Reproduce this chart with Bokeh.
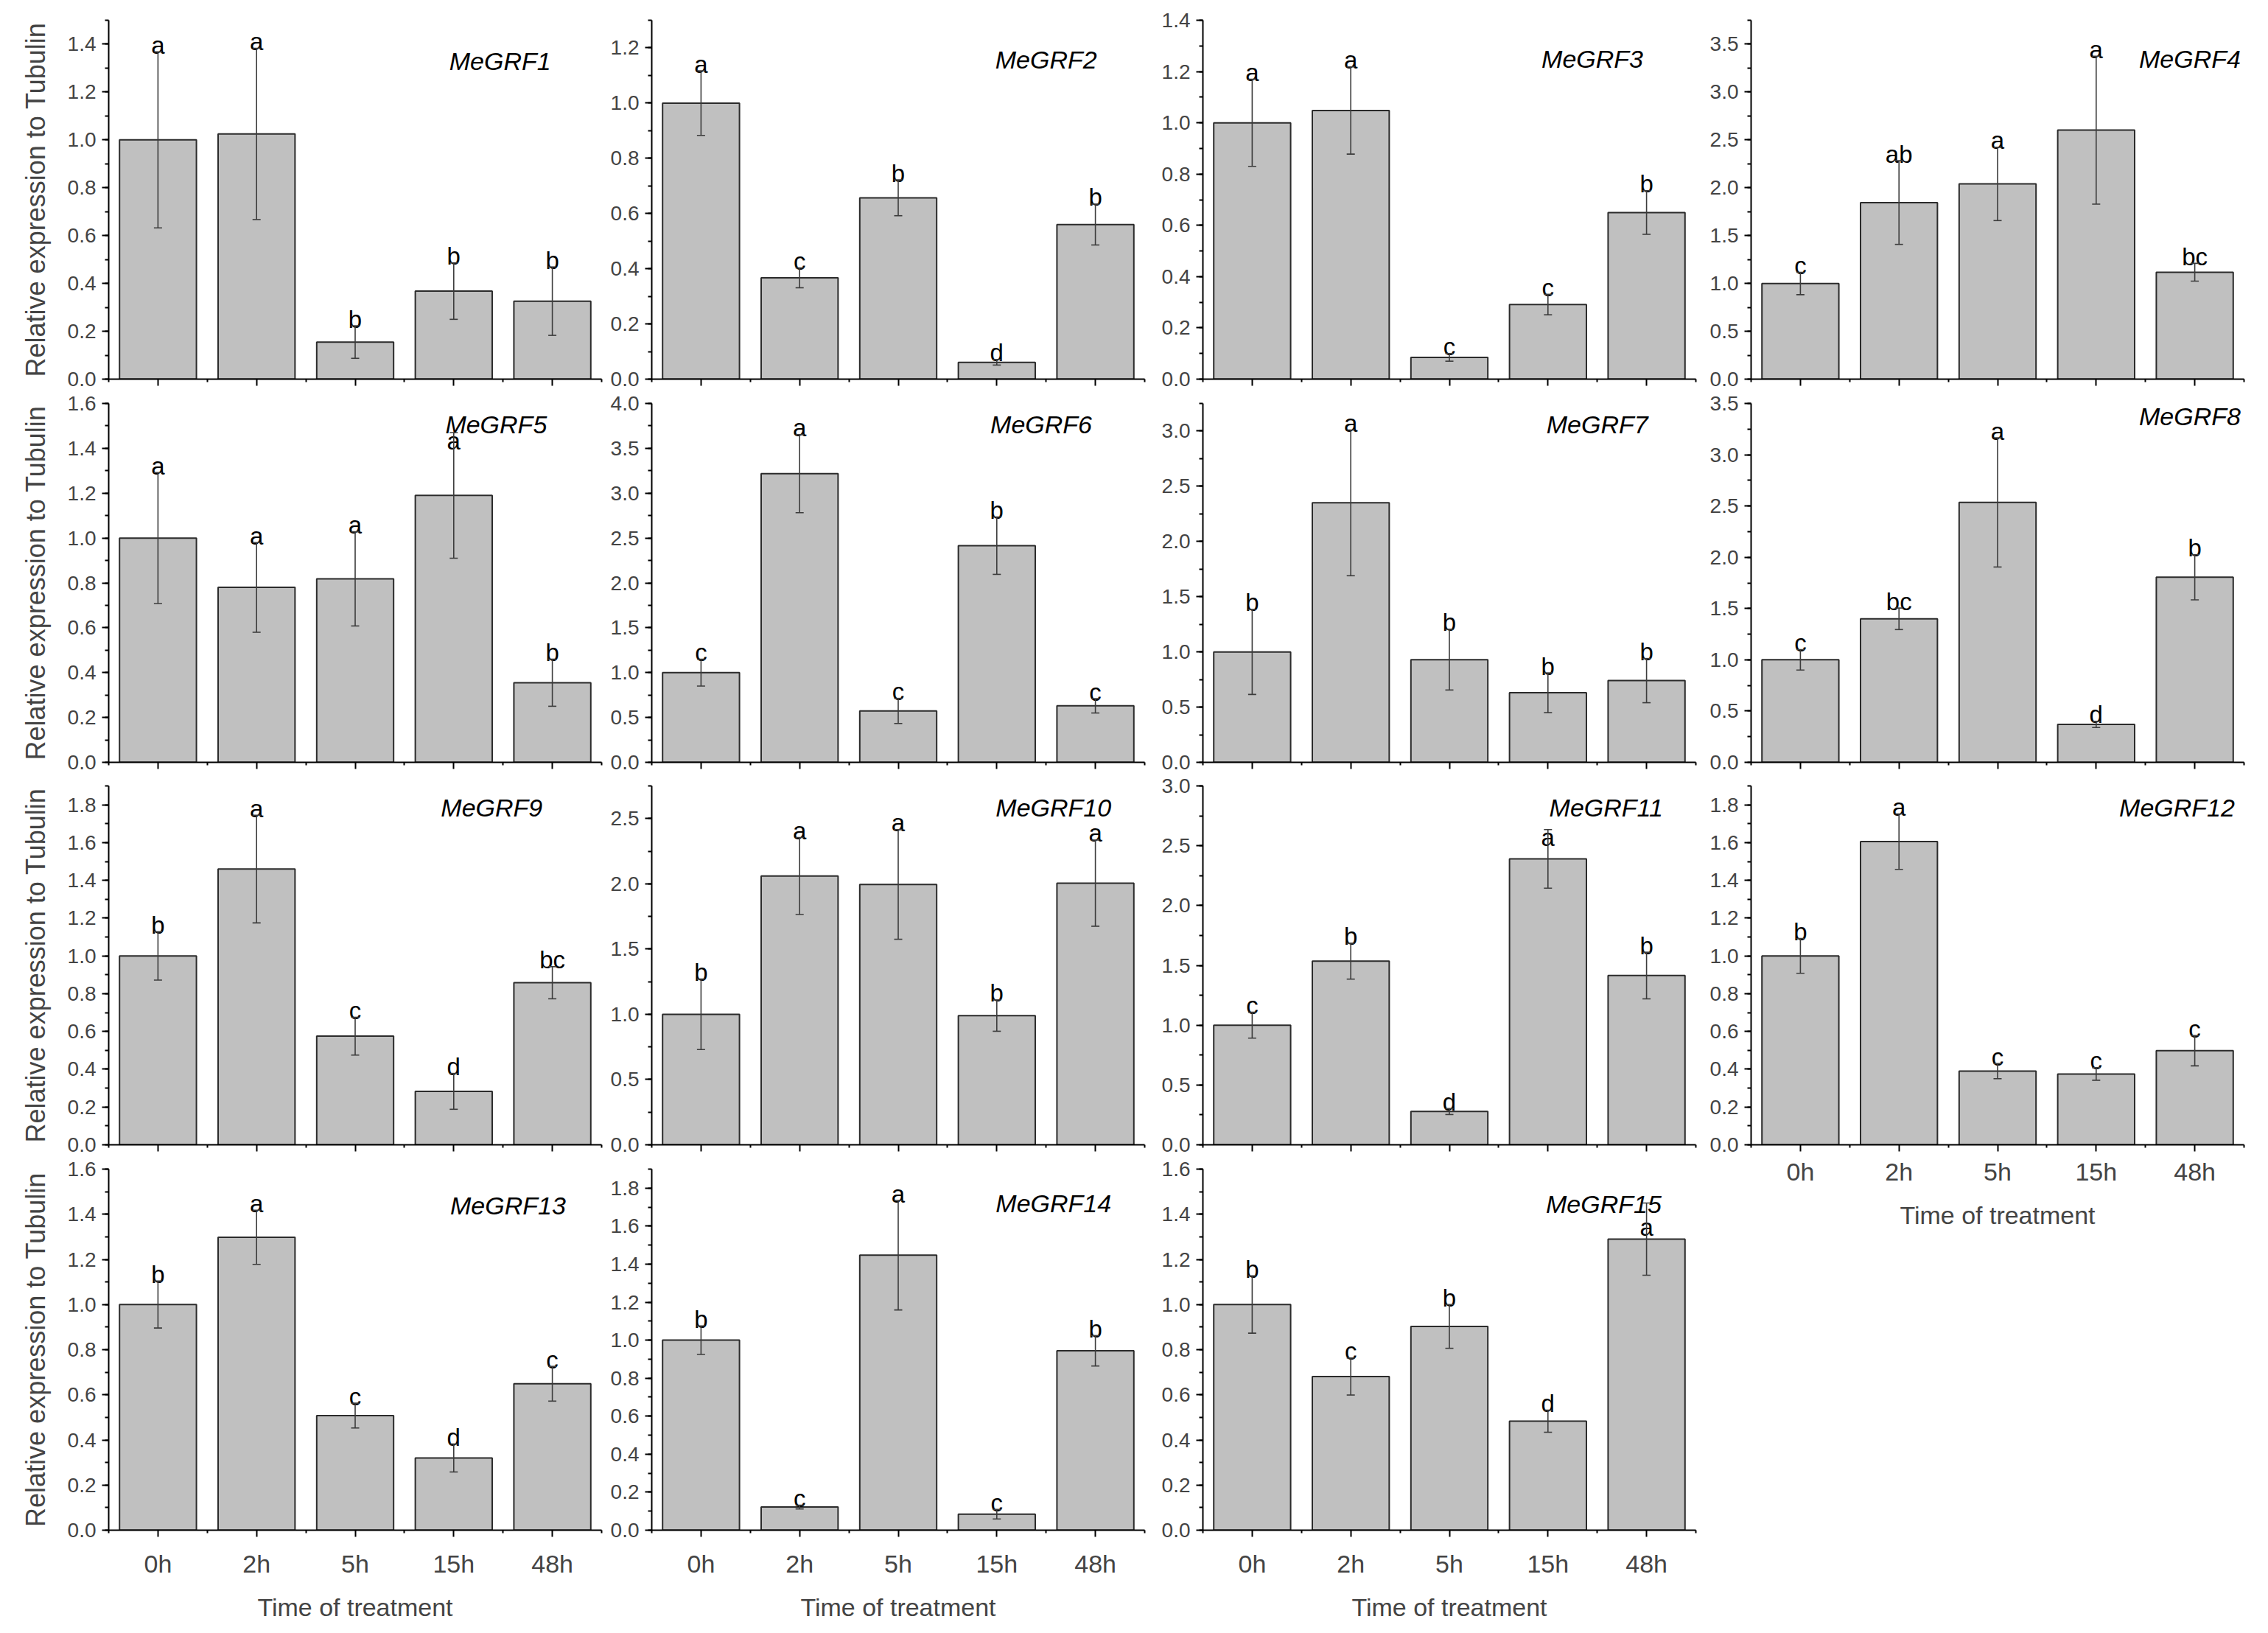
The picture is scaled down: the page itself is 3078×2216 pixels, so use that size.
from bokeh.plotting import figure
from bokeh.models import (Range1d, FixedTicker, PrintfTickFormatter, Label,
                          Whisker, TeeHead, ColumnDataSource)
from bokeh.layouts import row, column
from bokeh.embed import file_html
from bokeh.resources import INLINE
from bokeh.core.properties import value

# ---------------- data ----------------
times = ["0h", "2h", "5h", "15h", "48h"]
genes = ["MeGRF1", "MeGRF2", "MeGRF3", "MeGRF4",
         "MeGRF5", "MeGRF6", "MeGRF7", "MeGRF8",
         "MeGRF9", "MeGRF10", "MeGRF11", "MeGRF12",
         "MeGRF13", "MeGRF14", "MeGRF15"]

mean_MeGRF1 = [1.00, 1.025, 0.155, 0.368, 0.326]
mean_MeGRF2 = [1.00, 0.367, 0.657, 0.061, 0.560]
mean_MeGRF3 = [1.00, 1.048, 0.085, 0.291, 0.650]
mean_MeGRF4 = [1.00, 1.845, 2.040, 2.602, 1.117]
mean_MeGRF5 = [1.00, 0.780, 0.818, 1.190, 0.355]
mean_MeGRF6 = [1.00, 3.217, 0.573, 2.415, 0.630]
mean_MeGRF7 = [1.00, 2.350, 0.930, 0.630, 0.740]
mean_MeGRF8 = [1.00, 1.400, 2.535, 0.370, 1.805]
mean_MeGRF9 = [1.00, 1.460, 0.575, 0.283, 0.858]
mean_MeGRF10 = [1.00, 2.060, 1.995, 0.990, 2.005]
mean_MeGRF11 = [1.00, 1.535, 0.278, 2.390, 1.415]
mean_MeGRF12 = [1.00, 1.605, 0.390, 0.375, 0.498]
mean_MeGRF13 = [1.00, 1.298, 0.508, 0.320, 0.649]
mean_MeGRF14 = [1.00, 0.122, 1.447, 0.084, 0.944]
mean_MeGRF15 = [1.00, 0.681, 0.903, 0.483, 1.290]

err_MeGRF1 = [0.368, 0.358, 0.068, 0.118, 0.143]
err_MeGRF2 = [0.117, 0.036, 0.065, 0.010, 0.074]
err_MeGRF3 = [0.170, 0.170, 0.015, 0.040, 0.085]
err_MeGRF4 = [0.117, 0.437, 0.383, 0.773, 0.093]
err_MeGRF5 = [0.292, 0.200, 0.210, 0.280, 0.105]
err_MeGRF6 = [0.150, 0.435, 0.140, 0.320, 0.080]
err_MeGRF7 = [0.385, 0.660, 0.275, 0.180, 0.200]
err_MeGRF8 = [0.100, 0.105, 0.630, 0.030, 0.220]
err_MeGRF9 = [0.128, 0.285, 0.100, 0.095, 0.085]
err_MeGRF10 = [0.270, 0.295, 0.420, 0.120, 0.330]
err_MeGRF11 = [0.108, 0.150, 0.025, 0.245, 0.195]
err_MeGRF12 = [0.092, 0.147, 0.040, 0.033, 0.080]
err_MeGRF13 = [0.104, 0.120, 0.055, 0.062, 0.077]
err_MeGRF14 = [0.075, 0.010, 0.288, 0.025, 0.080]
err_MeGRF15 = [0.127, 0.082, 0.097, 0.049, 0.160]

let_MeGRF1 = ["a", "a", "b", "b", "b"]
let_MeGRF2 = ["a", "c", "b", "d", "b"]
let_MeGRF3 = ["a", "a", "c", "c", "b"]
let_MeGRF4 = ["c", "ab", "a", "a", "bc"]
let_MeGRF5 = ["a", "a", "a", "a", "b"]
let_MeGRF6 = ["c", "a", "c", "b", "c"]
let_MeGRF7 = ["b", "a", "b", "b", "b"]
let_MeGRF8 = ["c", "bc", "a", "d", "b"]
let_MeGRF9 = ["b", "a", "c", "d", "bc"]
let_MeGRF10 = ["b", "a", "a", "b", "a"]
let_MeGRF11 = ["c", "b", "d", "a", "b"]
let_MeGRF12 = ["b", "a", "c", "c", "c"]
let_MeGRF13 = ["b", "a", "c", "d", "c"]
let_MeGRF14 = ["b", "c", "a", "c", "b"]
let_MeGRF15 = ["b", "c", "b", "d", "a"]

y_max = [1.5, 1.3, 1.4, 3.75, 1.6, 4.0, 3.25, 3.5,
         1.9, 2.75, 3.0, 1.9, 1.6, 1.9, 1.6]
y_step = [0.2, 0.2, 0.2, 0.5, 0.2, 0.5, 0.5, 0.5,
          0.2, 0.5, 0.5, 0.2, 0.2, 0.2, 0.2]

ylabel = "Relative expression to Tubulin"
xlabel = "Time of treatment"

means = [mean_MeGRF1, mean_MeGRF2, mean_MeGRF3, mean_MeGRF4, mean_MeGRF5,
         mean_MeGRF6, mean_MeGRF7, mean_MeGRF8, mean_MeGRF9, mean_MeGRF10,
         mean_MeGRF11, mean_MeGRF12, mean_MeGRF13, mean_MeGRF14, mean_MeGRF15]
errs = [err_MeGRF1, err_MeGRF2, err_MeGRF3, err_MeGRF4, err_MeGRF5,
        err_MeGRF6, err_MeGRF7, err_MeGRF8, err_MeGRF9, err_MeGRF10,
        err_MeGRF11, err_MeGRF12, err_MeGRF13, err_MeGRF14, err_MeGRF15]
lets = [let_MeGRF1, let_MeGRF2, let_MeGRF3, let_MeGRF4, let_MeGRF5,
        let_MeGRF6, let_MeGRF7, let_MeGRF8, let_MeGRF9, let_MeGRF10,
        let_MeGRF11, let_MeGRF12, let_MeGRF13, let_MeGRF14, let_MeGRF15]

# ---------------- layout / style ----------------
FONT = "Liberation Sans"
FRAME_W = 669
COL_LEFT = [147, 62, 62, 61]
COL_RIGHT = [6, 17, 14, 25]
ROW_TOP = [27, 17, 16, 17]
ROW_FRAME_H = [487, 487, 487, 490]
ROW_BOTTOM = [16, 16, 17, 130]

# gene-name label position as fraction of frame (x from left, y from top)
LABEL_FRAC = [(0.794, 0.113), (0.80, 0.110), (0.79, 0.107), (0.89, 0.108),
              (0.786, 0.058), (0.79, 0.058), (0.80, 0.058), (0.89, 0.035),
              (0.777, 0.060), (0.815, 0.060), (0.818, 0.060), (0.864, 0.060),
              (0.81, 0.100), (0.815, 0.094), (0.813, 0.096)]
# letters drawn over the whisker instead of above it: (panel, bar) -> y offset px
LETTER_SHIFT = {(4, 3): 11, (10, 3): 11, (14, 4): 33}

BAR_FILL = "#c0c0c0"
BAR_LINE = "#2b2b2b"
ERR_COLOR = "#3c3c3c"


def make_panel(i, r, c, show_x):
    ymax = y_max[i]
    step = y_step[i]
    nmaj = int(round(ymax / step + 1e-9))
    majors = [round(k * step, 4) for k in range(nmaj + 1) if k * step <= ymax + 1e-9]
    minors = [round(k * step / 2, 4) for k in range(2 * nmaj + 2) if k * step / 2 <= ymax + 1e-9]

    bottom = ROW_BOTTOM[r] if show_x else (16 if r < 3 else ROW_BOTTOM[r])
    p = figure(frame_width=FRAME_W, frame_height=ROW_FRAME_H[r],
               x_range=Range1d(0, 5), y_range=Range1d(0, ymax),
               output_backend="svg", toolbar_location=None,
               min_border_left=COL_LEFT[c], min_border_right=COL_RIGHT[c],
               min_border_top=ROW_TOP[r], min_border_bottom=bottom)
    p.outline_line_color = None
    p.grid.visible = False
    p.background_fill_color = "white"
    p.border_fill_color = "white"

    xs = [k + 0.5 for k in range(5)]
    src = ColumnDataSource(dict(x=xs, top=means[i],
                                upper=[m + e for m, e in zip(means[i], errs[i])],
                                lower=[m - e for m, e in zip(means[i], errs[i])],
                                lab=lets[i]))
    p.vbar(x="x", top="top", bottom=0, width=0.78, source=src,
           fill_color=BAR_FILL, line_color=BAR_LINE, line_width=2)
    w = Whisker(source=src, base="x", upper="upper", lower="lower",
                line_color=ERR_COLOR, line_width=1.6, level="overlay",
                upper_head=TeeHead(size=11, line_color=ERR_COLOR, line_width=1.6),
                lower_head=TeeHead(size=11, line_color=ERR_COLOR, line_width=1.6))
    p.add_layout(w)

    for k in range(5):
        off = LETTER_SHIFT.get((i, k), -9)
        p.text(x=[xs[k]], y=[means[i][k] + errs[i][k]], text=[lets[i][k]],
               text_font=value(FONT), text_font_size="33px",
               text_align="center", text_baseline="alphabetic",
               y_offset=off, text_color="black")

    fx, fy = LABEL_FRAC[i]
    p.add_layout(Label(x=fx * 5, y=ymax * (1 - fy), text=genes[i],
                       text_font=FONT, text_font_size="34px",
                       text_font_style="italic", text_align="center",
                       text_baseline="middle", text_color="black"))

    # y axis
    ya = p.yaxis[0]
    ya.ticker = FixedTicker(ticks=majors, minor_ticks=minors)
    ya.formatter = PrintfTickFormatter(format="%.1f")
    ya.major_label_text_font = FONT
    ya.major_label_text_font_size = "28px"
    ya.major_label_standoff = 8
    ya.axis_line_width = 2
    ya.major_tick_line_width = 2
    ya.minor_tick_line_width = 2
    ya.major_tick_out = 9
    ya.major_tick_in = 0
    ya.minor_tick_out = 5
    ya.minor_tick_in = 0
    if c == 0:
        ya.axis_label = ylabel
        ya.axis_label_text_font = FONT
        ya.axis_label_text_font_size = "36px"
        ya.axis_label_text_font_style = "normal"
        ya.axis_label_standoff = 20

    # x axis
    xa = p.xaxis[0]
    xa.ticker = FixedTicker(ticks=xs, minor_ticks=[0, 1, 2, 3, 4, 5])
    xa.axis_line_width = 2
    xa.major_tick_line_width = 2
    xa.minor_tick_line_width = 2
    xa.major_tick_out = 9
    xa.major_tick_in = 0
    xa.minor_tick_out = 4
    xa.minor_tick_in = 0
    if show_x:
        xa.major_label_overrides = {x: t for x, t in zip(xs, times)}
        xa.major_label_text_font = FONT
        xa.major_label_text_font_size = "34px"
        xa.major_label_standoff = 17 if r == 3 else 8
        xa.axis_label = xlabel
        xa.axis_label_text_font = FONT
        xa.axis_label_text_font_size = "34px"
        xa.axis_label_text_font_style = "normal"
        xa.axis_label_standoff = 18
    else:
        xa.major_label_overrides = {x: "" for x in xs}
        xa.major_label_text_font_size = "0px"
        xa.major_label_standoff = 0
    return p


cols = []
for c in range(4):
    figs = []
    for r in range(4):
        i = r * 4 + c
        if i >= len(genes):
            continue
        show_x = (r == 3) or (c == 3 and r == 2)
        figs.append(make_panel(i, r, c, show_x))
    cols.append(column(*figs, spacing=0))

layout = row(*cols, spacing=0)
open("out.html", "w").write(file_html(layout, INLINE))
